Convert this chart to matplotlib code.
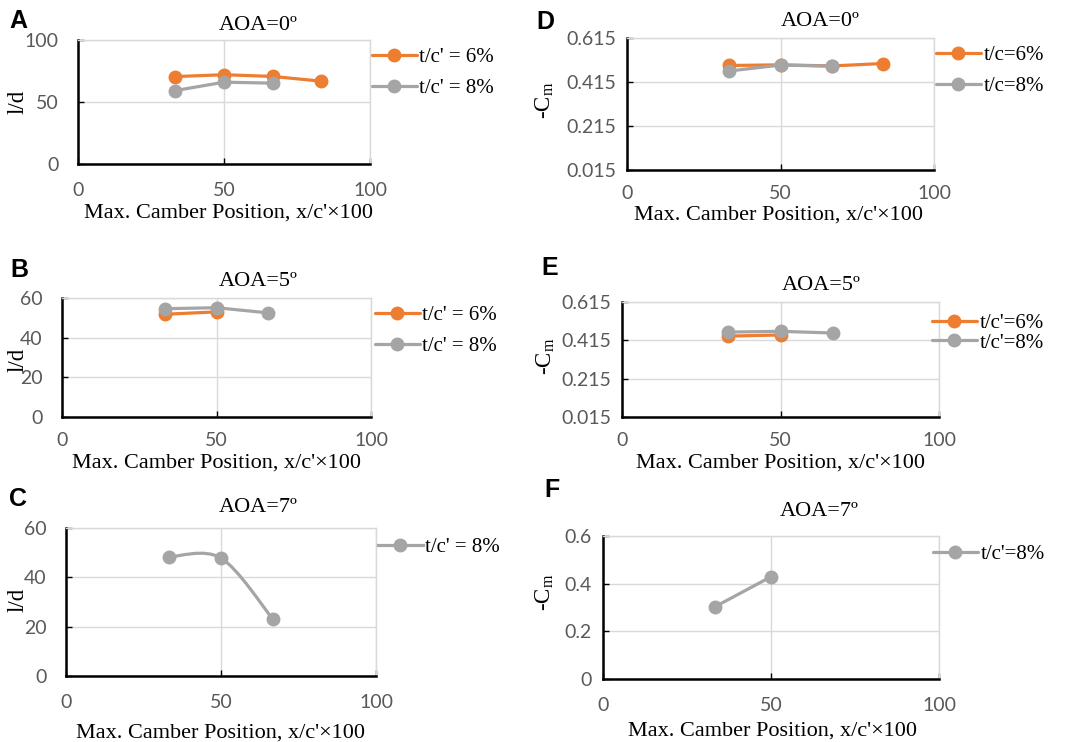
import numpy as np
import matplotlib
matplotlib.use('Agg')
import matplotlib.pyplot as plt
from matplotlib.path import Path
from matplotlib.patches import PathPatch
from matplotlib.lines import Line2D

# camber positions (x/c' x 100)
x4 = [33.3, 50, 66.7, 83.3]
x3 = [33.3, 50, 66.7]
x2 = [33.3, 50]

# l/d
ld_a0_6 = [70.5, 72.0, 70.6, 66.8]
ld_a0_8 = [59.2, 66.0, 65.2]
ld_a5_6 = [51.8, 53.0]
ld_a5_8 = [54.6, 55.1, 52.5]
ld_a7_8 = [48.3, 47.8, 23.1]

# -Cm
cm_a0_6 = [0.490, 0.493, 0.488, 0.499]
cm_a0_8 = [0.465, 0.492, 0.487]
cm_a5_6 = [0.437, 0.443]
cm_a5_8 = [0.458, 0.462, 0.453]
cm_a7_8 = [0.303, 0.429]

ORANGE = '#ED7D31'
GRAY = '#A5A5A5'
TICKC = '#595959'
GRID = '#D9D9D9'

W, H = 1067, 742
fig = plt.figure(figsize=(W / 100, H / 100), dpi=100)

plt.rcParams['mathtext.fontset'] = 'custom'
plt.rcParams['mathtext.rm'] = 'Liberation Serif'
plt.rcParams['mathtext.it'] = 'Liberation Serif:italic'

SERIF = 'Liberation Serif'
SANS = 'Lato'
TICKSIZE = 14


def fx(px):
    return px / W


def fy(py):
    return 1 - py / H


def make_axes(l, r, t, b, yticks, ypad, xpad=13):
    ax = fig.add_axes([fx(l), fy(b), fx(r - l), (b - t) / H])
    ax.set_xlim(0, 100)
    ax.set_ylim(yticks[0], yticks[-1])
    ax.set_xticks([0, 50, 100])
    ax.set_yticks(yticks)
    ax.grid(True, color=GRID, lw=1.0)
    ax.set_axisbelow(True)
    for s in ['top', 'right']:
        ax.spines[s].set_color(GRID)
        ax.spines[s].set_linewidth(1.0)
    for s in ['left', 'bottom']:
        ax.spines[s].set_color('black')
        ax.spines[s].set_linewidth(1.8)
    ax.tick_params(axis='x', direction='in', length=4, width=1, color='black',
                   pad=xpad, labelsize=TICKSIZE, labelcolor=TICKC)
    ax.tick_params(axis='y', direction='in', length=4, width=1, color='black',
                   pad=ypad, labelsize=TICKSIZE, labelcolor=TICKC)
    ax.tick_params(top=False, right=False)
    for lab in ax.get_xticklabels() + ax.get_yticklabels():
        lab.set_family(SANS)
    return ax


def series(ax, x, y, color, label):
    ax.plot(x, y, color=color, lw=2.3, marker='o', ms=9, label=label,
            solid_capstyle='round', clip_on=False)


def smooth_series(ax, x, y, color, label):
    # Excel style smoothed line: cubic bezier through the points
    pts = np.column_stack([x, y])
    verts = [tuple(pts[0])]
    codes = [Path.MOVETO]
    n = len(pts)
    for i in range(n - 1):
        p0 = pts[max(i - 1, 0)]
        p1 = pts[i]
        p2 = pts[i + 1]
        p3 = pts[min(i + 2, n - 1)]
        c1 = p1 + (p2 - p0) / 6
        c2 = p2 - (p3 - p1) / 6
        verts += [tuple(c1), tuple(c2), tuple(p2)]
        codes += [Path.CURVE4] * 3
    ax.add_patch(PathPatch(Path(verts, codes), fc='none', ec=color, lw=2.3,
                           capstyle='round'))
    ax.plot(x, y, ls='none', color=color, marker='o', ms=9, clip_on=False)
    return Line2D([], [], color=color, lw=2.3, marker='o', ms=9, label=label)


def legend(ax, handles, x, y, spacing):
    ax.legend(handles=handles, loc='center left',
              bbox_to_anchor=(fx(x), fy(y)), bbox_transform=fig.transFigure,
              frameon=False, borderpad=0, borderaxespad=0,
              handlelength=2.15, handletextpad=0.12, labelspacing=spacing,
              prop={'family': SERIF, 'size': 15})


def labels(ax, title, tx, ty, ylab, yx, yy, xx, xy, letter, lx, ly):
    fig.text(fx(tx), fy(ty), title, ha='center', va='center',
             family=SERIF, fontsize=16)
    fig.text(fx(xx), fy(xy), "Max. Camber Position, x/c'\u00d7100",
             ha='center', va='center', family=SERIF, fontsize=16)
    fig.text(fx(yx), fy(yy), ylab, ha='center', va='center', rotation=90,
             family=SERIF, fontsize=16.5)
    fig.text(fx(lx), fy(ly), letter, ha='center', va='center',
             family='Liberation Sans', fontweight='bold', fontsize=18)


CM = '-C$_\\mathrm{m}$'
cm_ticks = [0.015, 0.215, 0.415, 0.615]

# A
ax = make_axes(78, 370, 40, 164, [0, 50, 100], 14)
series(ax, x4, ld_a0_6, ORANGE, "t/c' = 6%")
series(ax, x3, ld_a0_8, GRAY, "t/c' = 8%")
legend(ax, None, 372, 73, 0.55)
labels(ax, 'AOA=0\u00ba', 258, 25, 'l/d', 18, 102, 229, 213, 'A', 18, 21)

# D
ax = make_axes(627, 934, 38, 170, cm_ticks, 8, xpad=11)
series(ax, x4, cm_a0_6, ORANGE, 't/c=6%')
series(ax, x3, cm_a0_8, GRAY, 't/c=8%')
legend(ax, None, 936, 71, 0.55)
labels(ax, 'AOA=0\u00ba', 820, 21, CM, 545, 100, 778, 215, 'D', 545, 22)

# B
ax = make_axes(62, 371, 298, 417, [0, 20, 40, 60], 14, xpad=11)
series(ax, x2, ld_a5_6, ORANGE, "t/c' = 6%")
series(ax, x3, ld_a5_8, GRAY, "t/c' = 8%")
legend(ax, None, 375, 331, 0.55)
labels(ax, 'AOA=5\u00ba', 258, 281, 'l/d', 18, 360, 216, 463, 'B', 19, 270)

# E
ax = make_axes(622, 939, 302, 417, cm_ticks, 8, xpad=11)
series(ax, x2, cm_a5_6, ORANGE, "t/c'=6%")
series(ax, x3, cm_a5_8, GRAY, "t/c'=8%")
legend(ax, None, 932, 333, 0.0)
labels(ax, 'AOA=5\u00ba', 821, 286, CM, 546, 356, 780, 463, 'E', 550, 268)

# C
ax = make_axes(66, 376, 528, 676, [0, 20, 40, 60], 14)
h = smooth_series(ax, x3, ld_a7_8, GRAY, "t/c' = 8%")
legend(ax, [h], 378, 547, 0.55)
labels(ax, 'AOA=7\u00ba', 258, 507, 'l/d', 18, 600, 220, 733, 'C', 18, 499)

# F
ax = make_axes(603, 939, 536, 679, [0, 0.2, 0.4, 0.6], 8)
ax.set_yticklabels(['0', '0.2', '0.4', '0.6'])
for lab in ax.get_yticklabels():
    lab.set_family(SANS)
series(ax, x2, cm_a7_8, GRAY, "t/c'=8%")
legend(ax, None, 933, 554, 0.55)
labels(ax, 'AOA=7\u00ba', 819, 511, CM, 545, 592, 772, 731, 'F', 552, 490)

fig.savefig('out.png', dpi=100)
